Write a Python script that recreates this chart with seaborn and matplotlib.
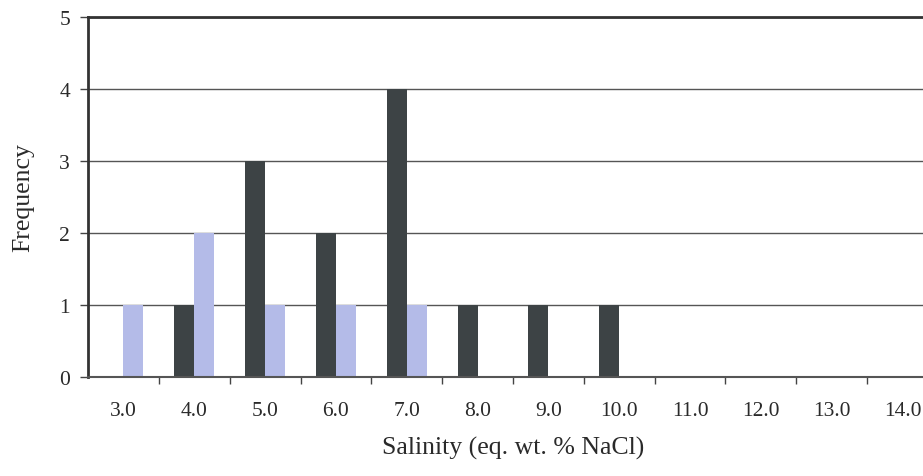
import matplotlib
matplotlib.use("Agg")
import matplotlib.pyplot as plt
import seaborn as sns
import pandas as pd

categories = ["3.0", "4.0", "5.0", "6.0", "7.0", "8.0", "9.0", "10.0", "11.0", "12.0", "13.0", "14.0"]
series_dark = [0, 1, 3, 2, 4, 1, 1, 1, 0, 0, 0, 0]
series_light = [1, 2, 1, 1, 1, 0, 0, 0, 0, 0, 0, 0]
series_names = ["A", "B"]

df = pd.DataFrame({
    "Salinity": categories * 2,
    "Frequency": series_dark + series_light,
    "Series": [series_names[0]] * len(categories) + [series_names[1]] * len(categories),
})

sns.set_theme(style="white")
plt.rcParams["font.family"] = ["Liberation Serif", "DejaVu Serif"]

fig = plt.figure(figsize=(9.23, 4.77), dpi=100)
ax = fig.add_axes([88 / 923, 1 - 378 / 477, (938 - 88) / 923, (378 - 18) / 477])

sns.barplot(data=df, x="Salinity", y="Frequency", hue="Series", order=categories,
            hue_order=series_names, palette=["#3d4345", "#b4bbe8"], width=0.566,
            gap=0, saturation=1, linewidth=0, ax=ax, legend=False)

ax.set_xlim(-0.5, len(categories) - 0.5)
ax.set_ylim(0, 5)
ax.set_yticks([0, 1, 2, 3, 4, 5])
ax.yaxis.grid(True, color="#555555", linewidth=1.0)
ax.set_axisbelow(True)

for s in ["left", "top"]:
    ax.spines[s].set_visible(True)
    ax.spines[s].set_color("#333333")
    ax.spines[s].set_linewidth(2.0)
ax.spines["bottom"].set_color("#555555")
ax.spines["bottom"].set_linewidth(1.5)
ax.spines["right"].set_visible(False)

ax.set_xticks(range(len(categories)))
ax.set_xticklabels(categories)
ax.set_xticks([i + 0.5 for i in range(len(categories) - 1)], minor=True)
ax.tick_params(axis="x", which="major", length=0, pad=17, labelsize=15.5, colors="#2a2a2a")
ax.tick_params(axis="x", which="minor", length=5, width=1, color="#444444", direction="out", bottom=True)
ax.tick_params(axis="y", which="major", length=6, width=1, color="#444444", direction="out",
               left=True, labelsize=15.5, pad=7, labelcolor="#2a2a2a")

ax.set_xlabel("Salinity (eq. wt. % NaCl)", fontsize=18.5, labelpad=12, color="#2a2a2a")
ax.set_ylabel("Frequency", fontsize=18.5, labelpad=18, color="#2a2a2a")

fig.savefig("out.png", dpi=100)
